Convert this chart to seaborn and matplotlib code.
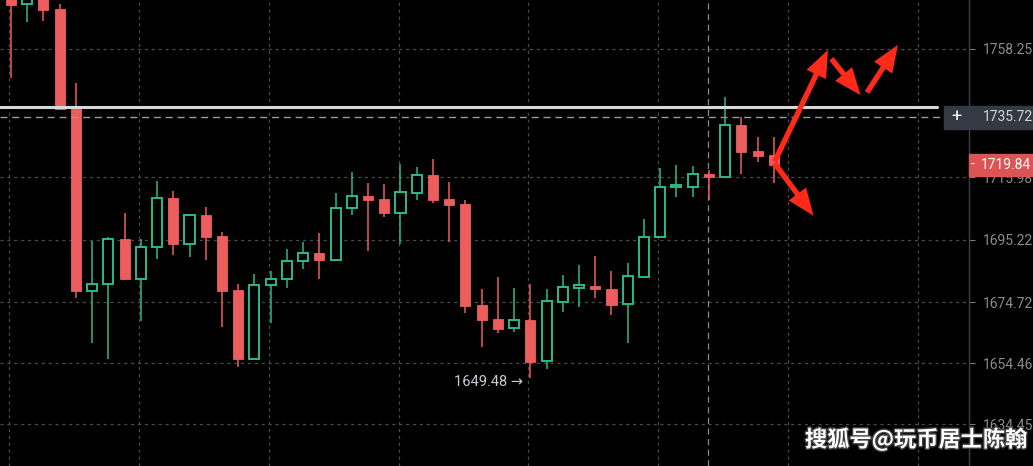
import matplotlib
matplotlib.use("Agg")
import matplotlib.pyplot as plt
import matplotlib.transforms as mtransforms
from matplotlib.patches import Rectangle, FancyArrowPatch
import matplotlib.patheffects as pe
import numpy as np
import pandas as pd
import seaborn as sns

# ---- data ----
opens = [1779.4, 1773.1, 1777.0, 1771.5, 1738.4, 1678.4, 1680.7, 1695.5, 1682.3, 1692.9,
         1709.1, 1693.9, 1703.5, 1696.5, 1678.7, 1655.9, 1680.3, 1682.3, 1688.3, 1690.9,
         1688.6, 1705.7, 1709.8, 1708.7, 1704.1, 1710.7, 1716.7, 1708.7, 1707.1, 1673.7,
         1669.1, 1666.2, 1668.8, 1655.3, 1674.7, 1679.4, 1680.0, 1679.0, 1674.1, 1683.0,
         1696.2, 1712.7, 1712.7, 1717.0, 1716.0, 1733.2, 1724.6, 1723.2]
highs = [1782.0, 1778.0, 1779.0, 1773.1, 1747.0, 1694.9, 1696.2, 1704.1, 1695.5, 1714.7,
         1711.4, 1703.8, 1706.1, 1697.8, 1680.7, 1684.0, 1685.0, 1692.3, 1694.5, 1697.5,
         1710.7, 1717.6, 1714.0, 1713.7, 1720.3, 1719.3, 1721.9, 1714.3, 1708.4, 1679.0,
         1683.0, 1679.4, 1680.7, 1679.0, 1683.7, 1686.9, 1689.9, 1685.0, 1687.6, 1702.1,
         1719.0, 1720.0, 1719.6, 1718.3, 1742.4, 1735.8, 1729.2, 1729.2]
lows = [1748.7, 1767.2, 1767.5, 1738.1, 1676.1, 1661.2, 1655.9, 1682.0, 1668.5, 1688.9,
        1690.2, 1689.6, 1688.6, 1666.5, 1653.3, 1655.6, 1667.8, 1679.4, 1685.6, 1682.3,
        1688.3, 1703.5, 1691.6, 1702.8, 1693.9, 1708.4, 1707.4, 1694.5, 1671.1, 1659.9,
        1664.5, 1664.8, 1649.48, 1652.6, 1671.4, 1673.1, 1676.1, 1670.4, 1661.2, 1682.7,
        1696.0, 1709.4, 1709.4, 1708.4, 1715.7, 1717.0, 1720.9, 1714.0]
closes = [1772.8, 1776.1, 1771.1, 1738.4, 1678.4, 1680.7, 1695.5, 1682.3, 1692.9, 1709.1,
          1693.9, 1703.5, 1696.2, 1678.4, 1655.9, 1680.3, 1682.3, 1688.3, 1690.9, 1688.6,
          1705.7, 1709.8, 1708.4, 1704.1, 1711.0, 1716.7, 1708.4, 1706.7, 1673.4, 1668.8,
          1665.8, 1668.8, 1654.9, 1675.1, 1679.7, 1680.0, 1679.0, 1673.7, 1683.3, 1696.2,
          1712.7, 1713.4, 1717.0, 1716.0, 1733.2, 1724.2, 1722.9, 1719.84]

tick_values = [1758.25, 1735.72, 1715.98, 1695.22, 1674.72, 1654.46, 1634.45]
tick_labels = ["1758.25", "1735.72", "1715.98", "1695.22", "1674.72", "1654.46", "1634.45"]
resistance_level = 1739.1
crosshair_price = 1735.72
crosshair_bar = 42.95
last_price = 1719.84
low_label = "1649.48 →"
watermark = "搜狐号@玩币居士陈翰"

df = pd.DataFrame({"idx": np.arange(len(opens)), "open": opens, "high": highs,
                   "low": lows, "close": closes})
df["up"] = df["close"] >= df["open"]

# ---- style ----
sns.set_theme(style="dark", rc={"axes.facecolor": "black", "figure.facecolor": "black"})
plt.rcParams["font.family"] = ["Roboto", "DejaVu Sans"]

RED = "#ec5e5e"
GREEN = "#2ab98c"
BG = "black"

fig = plt.figure(figsize=(10.33, 4.66), dpi=100)
ax = fig.add_axes([0, 0, 969 / 1033, 1])
ax.set_facecolor(BG)

# grid
for v in tick_values:
    if v != crosshair_price:
        ax.axhline(v, color="#4a4a4a", lw=0.9, ls=(0, (2.5, 3)), zorder=0)
for gx in np.arange(-0.12, 60, 8):
    ax.axvline(gx, color="#4a4a4a", lw=0.9, ls=(0, (2.5, 3)), zorder=0)

# wicks
for _, r in df.iterrows():
    col = GREEN if r["up"] else RED
    ax.vlines(r["idx"], r["low"], r["high"], color=col, lw=1.1, zorder=2)

# bodies
w = 0.62
up = df[df["up"]]
dn = df[~df["up"]]
ax.bar(dn["idx"], (dn["open"] - dn["close"]).clip(lower=0.8), bottom=dn["close"], width=w,
       color=RED, edgecolor=RED, lw=0.6, zorder=3)
ax.bar(up["idx"], (up["close"] - up["open"]).clip(lower=0.8), bottom=up["open"], width=w,
       color=BG, edgecolor=GREEN, lw=1.4, zorder=3)

# horizontal resistance and crosshair
ax.axhline(resistance_level, xmax=0.967, color="#d8d8d8", lw=2.2, zorder=4)
ax.axhline(crosshair_price, xmax=0.97, color="#9a9a9a", lw=1.0, ls=(0, (5, 3.5)), zorder=4)
ax.axvline(crosshair_bar, color="#8a8a8a", lw=0.9, ls=(0, (5, 3.5)), zorder=1)

ax.set_xlim(-0.678, 59.03)
ax.set_ylim(1620.6, 1774.4)
ax.set_xticks([])
ax.yaxis.tick_right()
ax.set_yticks(tick_values)
ax.set_yticklabels(tick_labels)
ax.tick_params(axis="y", colors="#7c7c7c", labelsize=10, length=4, width=0.8, pad=6,
               labelcolor="#8c8c8c")
ax.grid(False)
for s in ["top", "left", "bottom"]:
    ax.spines[s].set_visible(False)
ax.spines["right"].set_color("#3e3e55")
ax.spines["right"].set_linewidth(1.0)

# low label
ax.text(32 - 0.45, lows[32] - 1.0, low_label, color="#c9cbd3", fontsize=10.5,
        ha="right", va="center", zorder=5)

# price boxes on the scale
btr = mtransforms.blended_transform_factory(fig.transFigure, ax.transData)
fig.patches.append(Rectangle((944 / 1033, crosshair_price - 3.8), 1, 7.6, transform=btr,
                             color="#353944", zorder=5))
fig.text(956 / 1033, crosshair_price, "+", transform=btr, color="white", fontsize=13,
         ha="center", va="center", zorder=6)
fig.text(983 / 1033, crosshair_price, tick_labels[1], transform=btr, color="#d6d6d6",
         fontsize=10, ha="left", va="center", zorder=6)
ax.yaxis.get_ticklabels()[1].set_visible(False)

fig.patches.append(Rectangle((969 / 1033, last_price - 3.6), 1, 7.2, transform=btr,
                             color="#dd5454", zorder=7))
fig.text(971 / 1033, last_price, "-", transform=btr, color="white", fontsize=10,
         ha="left", va="center", zorder=8)
fig.text(981 / 1033, last_price, f"{last_price:.2f}", transform=btr, color="white",
         fontsize=10, ha="left", va="center", zorder=8)

# red hand-drawn arrows
ARROW = "#ff2a1a"
arrows = [((47.05, 1721.0), (50.34, 1757.9)),
          ((50.55, 1755.0), (52.35, 1743.0)),
          ((52.75, 1743.9), (54.65, 1759.6)),
          ((47.05, 1720.5), (49.45, 1703.2))]
for (x0, y0), (x1, y1) in arrows:
    ax.add_patch(FancyArrowPatch((x0, y0), (x1, y1), shrinkA=0, shrinkB=0,
                                 arrowstyle="simple,head_length=1.5,head_width=1.2,tail_width=0.3",
                                 mutation_scale=13, color=ARROW, lw=0, zorder=9))

# watermark
fig.text(805 / 1033, 1 - 440 / 466, watermark, color="white", fontsize=16, fontweight="bold",
         family=["Noto Sans CJK SC", "DejaVu Sans"], ha="left", va="center", zorder=10,
         path_effects=[pe.withStroke(linewidth=2, foreground="#404040")])

fig.savefig("out.png", dpi=100, facecolor=BG)
